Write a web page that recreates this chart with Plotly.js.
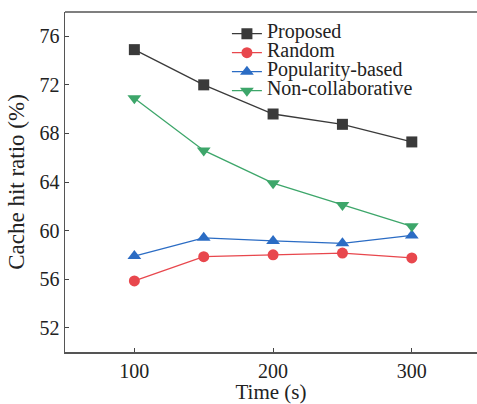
<!DOCTYPE html>
<html><head><meta charset="utf-8">
<script src="https://cdn.plot.ly/plotly-3.0.1.min.js"></script>
<style>html,body{margin:0;padding:0;background:#fff;}#chart{width:477px;height:404px;}</style>
</head><body><div id="chart"></div>
<script>
const time = [100, 150, 200, 250, 300];
const proposed = [74.9, 72.0, 69.6, 68.75, 67.3];
const random = [55.85, 57.85, 58.0, 58.15, 57.75];
const popularity = [57.9, 59.4, 59.15, 58.95, 59.6];
const nonCollab = [70.9, 66.6, 63.9, 62.1, 60.35];
const names = ['Proposed', 'Random', 'Popularity-based', 'Non-collaborative'];
const colors = ['#3a3a3a', '#e8474d', '#2b6cc4', '#3da66a'];
const symbols = ['square', 'circle', 'triangle-up', 'triangle-down'];
const series = [proposed, random, popularity, nonCollab];
const sizes = [11, 11, 12, 12];

const traces = series.map((s, i) => ({
  x: time, y: s, name: '<span style="font-size:20px">' + names[i] + '</span>',
  type: 'scatter', mode: 'lines+markers',
  line: {color: colors[i], width: 1.3},
  marker: {color: colors[i], symbol: symbols[i], size: sizes[i], line: {width: 0}}
}));

const fam = 'Liberation Serif, Times New Roman, serif';
const layout = {
  width: 477, height: 404,
  margin: {l: 65, r: 0, t: 12, b: 52},
  paper_bgcolor: '#fff', plot_bgcolor: '#fff',
  font: {family: fam, color: '#222', size: 20},
  showlegend: true,
  legend: {x: 0.393, y: 0.979, xanchor: 'left', yanchor: 'top', bgcolor: 'rgba(0,0,0,0)',
    font: {family: fam, size: 12, color: '#222'}, tracegroupgap: 0},
  xaxis: {
    range: [50, 347], tickvals: [100, 200, 300], ticktext: ['100', '200', '300'],
    ticks: 'inside', ticklen: 4, tickcolor: '#444', showgrid: false, zeroline: false,
    showline: true, linecolor: '#555', linewidth: 1.5, mirror: false,
    title: {text: 'Time (s)', font: {family: fam, size: 21, color: '#222'}, standoff: 0},
    tickfont: {family: fam, size: 20, color: '#222'}
  },
  yaxis: {
    range: [50, 78], tickvals: [52, 56, 60, 64, 68, 72, 76],
    ticks: 'inside', ticklen: 4, tickcolor: '#444', showgrid: false, zeroline: false,
    showline: true, linecolor: '#555', linewidth: 1.5,
    title: {text: 'Cache hit ratio (%)', font: {family: fam, size: 23, color: '#222'}, standoff: 8},
    tickfont: {family: fam, size: 20, color: '#222'}
  },
  shapes: [{type: 'line', xref: 'paper', yref: 'paper', x0: 0, x1: 1, y0: 1, y1: 1,
    line: {color: '#555', width: 1.5}}]
};
Plotly.newPlot('chart', traces, layout, {displayModeBar: false, staticPlot: true});
</script></body></html>
